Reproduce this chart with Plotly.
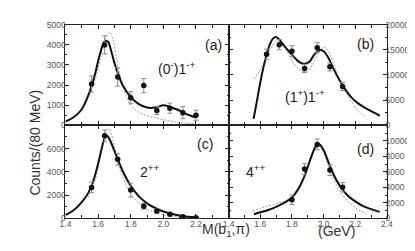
import plotly.graph_objects as go

# ---------------- data ----------------
bins_a = [1.56, 1.64, 1.72, 1.80, 1.88, 1.96, 2.04, 2.12, 2.20]
cnt_a = [2050, 3990, 2400, 1370, 1970, 740, 850, 630, 500]
err_a = [400, 450, 450, 300, 350, 200, 250, 300, 250]
fit_a_x = [1.40, 1.45, 1.50, 1.55, 1.58, 1.61, 1.64, 1.66, 1.68, 1.70, 1.72, 1.75, 1.80, 1.85,
           1.90, 1.95, 2.00, 2.03, 2.08, 2.12, 2.16, 2.20]
fit_a_y = [190, 400, 800, 1700, 2500, 3500, 4150, 4150, 3700, 3100, 2600, 2000, 1400, 1050,
           880, 880, 1000, 950, 800, 650, 500, 380]
alt_a_x = [1.54, 1.58, 1.62, 1.65, 1.67, 1.69, 1.72, 1.75, 1.80, 1.85, 1.90, 1.95, 2.00, 2.05,
           2.10, 2.15, 2.20]
alt_a_y = [1400, 2200, 3500, 4400, 4600, 4300, 3000, 2000, 1000, 650, 480, 370, 280, 200,
           140, 100, 80]

bins_b = [1.64, 1.72, 1.80, 1.88, 1.96, 2.04, 2.12]
cnt_b = [14100, 16000, 14700, 11300, 15400, 11600, 7700]
err_b = [1000, 1000, 1100, 800, 1000, 800, 800]
fit_b_x = [1.558, 1.58, 1.60, 1.62, 1.64, 1.66, 1.68, 1.70, 1.72, 1.75, 1.80, 1.85, 1.88, 1.91,
           1.94, 1.97, 2.00, 2.03, 2.06, 2.10, 2.14, 2.18, 2.22, 2.26, 2.30, 2.355]
fit_b_y = [1300, 5000, 8500, 11500, 14000, 16000, 17200, 17500, 17000, 15800, 14000, 12500,
           12200, 12600, 14000, 14900, 14700, 13400, 11400, 9000, 7000, 5400, 4300, 3500,
           2800, 1900]
alt_b_x = [1.56, 1.60, 1.64, 1.68, 1.71, 1.74, 1.78, 1.82, 1.86, 1.89, 1.92, 1.96, 2.00, 2.02,
           2.06, 2.10, 2.14, 2.18, 2.22, 2.26]
alt_b_y = [9200, 11000, 13500, 16000, 17000, 16500, 14000, 12000, 10800, 10600, 11500, 14000,
           15500, 15200, 12500, 9000, 6500, 4500, 2800, 1800]

bins_c = [1.56, 1.64, 1.72, 1.80, 1.88, 1.96, 2.04, 2.12, 2.20]
cnt_c = [2670, 7100, 5080, 2440, 1050, 640, 360, 140, 60]
err_c = [450, 500, 500, 600, 250, 200, 150, 100, 60]
fit_c_x = [1.40, 1.45, 1.50, 1.54, 1.57, 1.60, 1.62, 1.64, 1.655, 1.67, 1.70, 1.72, 1.75, 1.80,
           1.85, 1.90, 1.95, 2.00, 2.05, 2.10, 2.15, 2.20]
fit_c_y = [300, 700, 1400, 2200, 3200, 4700, 5900, 6900, 7100, 6800, 5800, 5100, 4100, 2800,
           1900, 1300, 900, 600, 400, 250, 150, 100]
alt_c_x = [1.54, 1.58, 1.62, 1.65, 1.665, 1.68, 1.70, 1.72, 1.75, 1.80, 1.85, 1.90, 1.95, 2.00,
           2.05, 2.10, 2.15, 2.20]
alt_c_y = [1800, 3200, 5800, 7400, 7700, 7300, 6200, 5000, 3600, 2100, 1300, 800, 500, 330,
           220, 150, 100, 60]

bins_d = [1.80, 1.88, 1.96, 2.04, 2.12]
cnt_d = [2410, 6360, 9540, 6230, 4030]
err_d = [600, 700, 700, 700, 600]
fit_d_x = [1.56, 1.60, 1.65, 1.70, 1.75, 1.80, 1.84, 1.88, 1.92, 1.95, 1.97, 2.00, 2.03, 2.06,
           2.10, 2.15, 2.20, 2.25, 2.30, 2.355]
fit_d_y = [550, 800, 1100, 1500, 2000, 2700, 3800, 5500, 7800, 9300, 9600, 8800, 7300, 5800,
           4300, 3000, 2200, 1600, 1200, 850]
alt_d_x = [1.55, 1.60, 1.65, 1.70, 1.75, 1.80, 1.84, 1.88, 1.92, 1.95, 1.97, 2.00, 2.03, 2.06,
           2.10, 2.15, 2.20, 2.25, 2.27]
alt_d_y = [1000, 1300, 1600, 1900, 2200, 2600, 3700, 5500, 8000, 9200, 9300, 8500, 6800, 5200,
           3600, 2300, 1400, 800, 600]

xticks_left = [1.4, 1.6, 1.8, 2.0, 2.2]
xticks_right = [1.4, 1.6, 1.8, 2.0, 2.2, 2.4]
xtext_left = ["1.4", "1.6", "1.8", "2.0", "2.2"]
xtext_right = ["1.4", "1.6", "1.8", "2.0", "2.2", "2.4"]
yticks_a = [0, 1000, 2000, 3000, 4000, 5000]
yticks_b = [0, 5000, 10000, 15000, 20000]
yticks_c = [0, 2000, 4000, 6000]
yticks_d = [0, 2000, 4000, 6000, 8000, 10000]
ytext_a = ["0", "1000", "2000", "3000", "4000", "5000"]
ytext_b = ["0", "5000", "10000", "15000", "20000"]
ytext_c = ["0", "2000", "4000", "6000"]
ytext_d = ["0", "2000", "4000", "6000", "8000", "10000"]

panel_labels = ["(a)", "(b)", "(c)", "(d)"]
wave_labels = ["(0<sup>-</sup>)1<sup>-+</sup>", "(1<sup>+</sup>)1<sup>-+</sup>",
               "2<sup>++</sup>", "4<sup>++</sup>"]

# ---------------- figure ----------------
W, H = 415, 251
fig = go.Figure()

panels = [
    ("x", "y", bins_a, cnt_a, err_a, fit_a_x, fit_a_y, alt_a_x, alt_a_y),
    ("x2", "y2", bins_b, cnt_b, err_b, fit_b_x, fit_b_y, alt_b_x, alt_b_y),
    ("x3", "y3", bins_c, cnt_c, err_c, fit_c_x, fit_c_y, alt_c_x, alt_c_y),
    ("x4", "y4", bins_d, cnt_d, err_d, fit_d_x, fit_d_y, alt_d_x, alt_d_y),
]
for xa, ya, bx, by, be, fx, fy, ax, ay in panels:
    fig.add_trace(go.Scatter(x=ax, y=ay, mode="lines", xaxis=xa, yaxis=ya,
                             line=dict(color="#a0a0a0", width=1, dash="2px,1.5px",
                                       shape="spline"),
                             showlegend=False, hoverinfo="skip"))
    fig.add_trace(go.Scatter(x=fx, y=fy, mode="lines", xaxis=xa, yaxis=ya,
                             line=dict(color="#111111", width=2, shape="spline"),
                             showlegend=False, hoverinfo="skip"))
    fig.add_trace(go.Scatter(x=bx, y=by, mode="markers", xaxis=xa, yaxis=ya,
                             marker=dict(color="#111111", size=5.5),
                             error_y=dict(type="data", array=be, color="#8a8a8a",
                                          thickness=1, width=2.5),
                             showlegend=False))


def px_x(p):
    return p / W


def px_y(p):
    return 1 - p / H


xl = [px_x(53), px_x(221)]
xr = [px_x(221), px_x(384)]
yt = [px_y(117), px_y(12)]
yb = [px_y(214), px_y(117)]

tickfont = dict(family="Liberation Sans, Arial", size=8.5, color="#555555")
common_x = dict(range=[1.4, 2.4], showline=True, linecolor="#222222", linewidth=1,
                mirror="allticks", ticks="inside", ticklen=4, tickcolor="#222222",
                showgrid=False, zeroline=False, tickfont=tickfont, ticklabelstandoff=-3,
                minor=dict(dtick=0.1, ticks="inside", ticklen=3, tickcolor="#222222"))
common_y = dict(showline=True, linecolor="#222222", linewidth=1, mirror="allticks",
                ticks="inside", ticklen=4, tickcolor="#222222", showgrid=False,
                zeroline=False, tickfont=tickfont)

fig.update_layout(
    width=W, height=H, margin=dict(l=0, r=0, t=0, b=0),
    paper_bgcolor="white", plot_bgcolor="white",
    xaxis=dict(domain=xl, anchor="y", showticklabels=False,
               tickvals=xticks_left, **common_x),
    xaxis2=dict(domain=xr, anchor="y2", showticklabels=False,
                tickvals=xticks_right, **common_x),
    xaxis3=dict(domain=xl, anchor="y3", tickvals=xticks_left, ticktext=xtext_left, **common_x),
    xaxis4=dict(domain=xr, anchor="y4", tickvals=xticks_right, ticktext=xtext_right, **common_x),
    yaxis=dict(domain=yt, anchor="x", range=[0, 5000], tickvals=yticks_a, ticktext=ytext_a,
               ticklabelstandoff=-3,
               minor=dict(dtick=500, ticks="inside", ticklen=2, tickcolor="#222222"),
               **common_y),
    yaxis2=dict(domain=yt, anchor="x2", range=[0, 20000], tickvals=yticks_b, ticktext=ytext_b,
                side="right", ticklabelstandoff=-4,
                minor=dict(dtick=2500, ticks="inside", ticklen=2, tickcolor="#222222"),
                **common_y),
    yaxis3=dict(domain=yb, anchor="x3", range=[0, 8000], tickvals=yticks_c, ticktext=ytext_c,
                ticklabelstandoff=-3,
                minor=dict(dtick=1000, ticks="inside", ticklen=2, tickcolor="#222222"),
                **common_y),
    yaxis4=dict(domain=yb, anchor="x4", range=[0, 12000], tickvals=yticks_d, ticktext=ytext_d,
                side="right", ticklabelstandoff=-4,
                minor=dict(dtick=1000, ticks="inside", ticklen=2, tickcolor="#222222"),
                **common_y),
)

txtfont = dict(family="Liberation Sans, Arial", size=14, color="#222222")
ann = [
    ("x", "y", 2.305, 3980, panel_labels[0]),
    ("x", "y", 2.08, 2840, wave_labels[0]),
    ("x2", "y2", 2.265, 16070, panel_labels[1]),
    ("x2", "y2", 1.88, 5830, wave_labels[1]),
    ("x3", "y3", 2.257, 6360, panel_labels[2]),
    ("x3", "y3", 1.918, 4110, wave_labels[2]),
    ("x4", "y4", 2.265, 9000, panel_labels[3]),
    ("x4", "y4", 1.572, 6140, wave_labels[3]),
]
for xr_, yr_, x, y, t in ann:
    fig.add_annotation(x=x, y=y, xref=xr_, yref=yr_, text=t, showarrow=False, font=txtfont)

titlefont = dict(family="Liberation Sans, Arial", size=14, color="#333333")
fig.add_annotation(x=px_x(11), y=px_y(78), xref="paper", yref="paper",
                   text="Counts/(80 MeV)", textangle=-90, showarrow=False, font=titlefont)
fig.add_annotation(x=px_x(218), y=px_y(237), xref="paper", yref="paper",
                   text="M(b<sub>1</sub>,π)", showarrow=False, font=titlefont)
fig.add_annotation(x=px_x(353), y=px_y(237), xref="paper", yref="paper",
                   text="(GeV)", showarrow=False, font=titlefont)

fig.write_html("out.html")
